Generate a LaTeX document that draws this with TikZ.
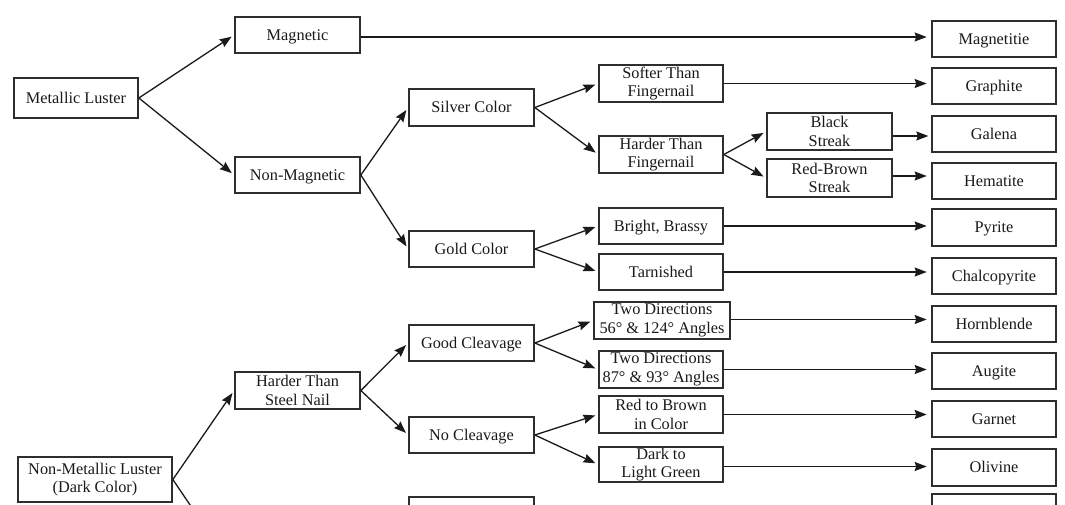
\documentclass[tikz,border=0pt]{standalone}
\usepackage{fontspec}
\setmainfont{Liberation Serif}
\usetikzlibrary{arrows.meta}
\definecolor{ink}{HTML}{1A1A1A}
\definecolor{frame}{HTML}{2E2E2E}
\tikzset{
  box/.style={draw=frame, line width=1.7pt, minimum width=125pt, minimum height=37pt,
    inner sep=0pt, align=center, text=ink, font=\fontsize{16.3}{18.5}\selectfont},
  one/.style={text height=12pt, text depth=1.5pt},
  wide/.style={minimum width=124pt},
  conn/.style={draw=ink, line width=1.3pt, shorten >=3pt,
    -{Stealth[length=12pt,width=9pt,inset=1.5pt]}},
  hconn/.style={conn, shorten >=4.5pt},
  plain/.style={draw=ink, line width=1.3pt}
}
\begin{document}
\begin{tikzpicture}[x=1pt,y=-1pt]
\clip (0,0) rectangle (1065,505);
\fill[white] (0,0) rectangle (1065,505);
% first column
\node[box, one, minimum width=124pt, minimum height=40pt] (ml) at (76,98) {Metallic Luster};
\node[box, minimum width=154pt, minimum height=45pt] (nml) at (95,479.5) {Non-Metallic Luster\\(Dark Color)};
% second column
\node[box, one, minimum height=36pt] (mag) at (297.5,35) {Magnetic};
\node[box, one, minimum height=36pt] (nmag) at (297.5,175) {Non-Magnetic};
\node[box] (steel) at (297.5,390.5) {Harder Than\\Steel Nail};
% third column
\node[box, one] (silver) at (471.5,107.5) {Silver Color};
\node[box, one, minimum height=36pt] (gold) at (471.5,249) {Gold Color};
\node[box, one, minimum height=36pt] (good) at (471.5,343) {Good Cleavage};
\node[box, one, minimum height=36pt] (nocl) at (471.5,435) {No Cleavage};
\node[box, minimum height=36pt] (hidden) at (471.5,515) {};
% fourth column
\node[box, wide] (softer) at (661,83.5) {Softer Than\\Fingernail};
\node[box, wide] (hardf) at (661,154.5) {Harder Than\\Fingernail};
\node[box, one, wide, minimum height=36pt] (bright) at (661,226) {Bright, Brassy};
\node[box, one, wide, minimum height=36pt] (tarn) at (661,272) {Tarnished};
\node[box, minimum width=136pt] (twoa) at (662,320.5) {Two Directions\\56° \& 124° Angles};
\node[box, wide] (twob) at (661,369.5) {Two Directions\\87° \& 93° Angles};
\node[box, wide] (redb) at (661,414.5) {Red to Brown\\in Color};
\node[box, wide, minimum height=35pt] (dark) at (661,464.5) {Dark to\\Light Green};
% streak column
\node[box] (black) at (829.5,131.5) {Black\\Streak};
\node[box, minimum height=38pt] (rbs) at (829.5,178) {Red-Brown\\Streak};
% minerals
\node[box, one, wide, minimum height=36pt] (magnetitie) at (994,39) {Magnetitie};
\node[box, one, wide, minimum height=36pt] (graphite) at (994,86) {Graphite};
\node[box, one, wide, minimum height=36pt] (galena) at (994,134) {Galena};
\node[box, one, wide, minimum height=36pt] (hematite) at (994,181) {Hematite};
\node[box, one, wide, minimum height=37pt] (pyrite) at (994,227.5) {Pyrite};
\node[box, one, wide, minimum height=36pt] (chalco) at (994,276) {Chalcopyrite};
\node[box, one, wide, minimum height=36pt] (horn) at (994,324) {Hornblende};
\node[box, one, wide, minimum height=36pt] (augite) at (994,371) {Augite};
\node[box, one, wide, minimum height=36pt] (garnet) at (994,419) {Garnet};
\node[box, one, wide, minimum height=37pt] (olivine) at (994,467.5) {Olivine};
\node[box, wide, minimum height=36pt] (hiddenm) at (994,512) {};
\coordinate (offbottom) at (232,567);
% branching connectors
\draw[conn] (ml.east) -- (mag.west);
\draw[conn] (ml.east) -- (nmag.west);
\draw[conn] (nmag.east) -- (silver.west);
\draw[conn] (nmag.east) -- (gold.west);
\draw[conn] (silver.east) -- (softer.west);
\draw[conn] (silver.east) -- (hardf.west);
\draw[conn] (gold.east) -- (bright.west);
\draw[conn] (gold.east) -- (tarn.west);
\draw[conn] (hardf.east) -- (black.west);
\draw[conn] (hardf.east) -- (rbs.west);
\draw[conn] (nml.east) -- (steel.west);
\draw[plain] (nml.east) -- (offbottom);
\draw[conn] (steel.east) -- (good.west);
\draw[conn] (steel.east) -- (nocl.west);
\draw[conn] (good.east) -- (twoa.west);
\draw[conn] (good.east) -- (twob.west);
\draw[conn] (nocl.east) -- (redb.west);
\draw[conn] (nocl.east) -- (dark.west);
% horizontal connectors to minerals
\draw[hconn] (mag.east) ++(0,2) -- (magnetitie.west |- {0,37});
\draw[hconn] (softer.east) -- (softer.east -| graphite.west);
\draw[hconn] (black.east |- galena.west) ++(0,2) -- ++(40,0);
\draw[hconn] (rbs.east) ++(0,-2) -- (hematite.west |- {0,176});
\draw[hconn] (bright.east) -- (bright.east -| pyrite.west);
\draw[hconn] (tarn.east) -- (tarn.east -| chalco.west);
\draw[hconn] (twoa.east) ++(0,-1) -- (horn.west |- {0,319.5});
\draw[hconn] (twob.east) -- (twob.east -| augite.west);
\draw[hconn] (redb.east) -- (redb.east -| garnet.west);
\draw[hconn] (dark.east) ++(0,2) -- (olivine.west |- {0,466.5});
\end{tikzpicture}
\end{document}
